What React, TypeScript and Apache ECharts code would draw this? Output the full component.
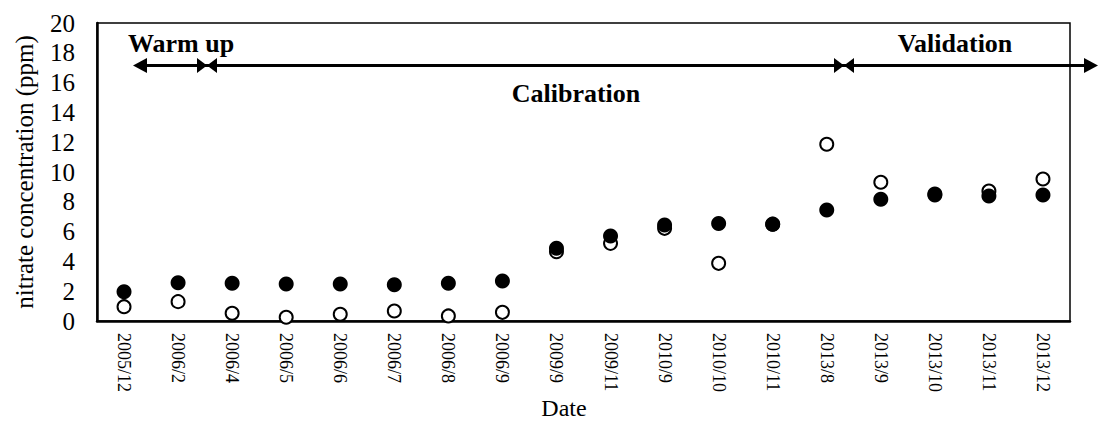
import React, { useEffect, useRef } from "react";
import * as echarts from "echarts";

const categories = [
  "2005/12", "2006/2", "2006/4", "2006/5", "2006/6", "2006/7", "2006/8", "2006/9",
  "2009/9", "2009/11", "2010/9", "2010/10", "2010/11", "2013/8", "2013/9", "2013/10",
  "2013/11", "2013/12",
];

// open circles
const openValues = [0.96, 1.3, 0.52, 0.25, 0.45, 0.67, 0.34, 0.58, 4.65, 5.21, 6.22, 3.87, 6.5, 11.86, 9.31, 8.52, 8.72, 9.53];
// filled circles
const filledValues = [1.97, 2.57, 2.53, 2.48, 2.48, 2.44, 2.53, 2.68, 4.88, 5.7, 6.44, 6.55, 6.5, 7.45, 8.17, 8.46, 8.39, 8.46];

const periodLabels = ["Warm up", "Calibration", "Validation"];
const xTitle = "Date";

const FONT = "Liberation Serif";

export default function App() {
  const ref = useRef<HTMLDivElement>(null);

  useEffect(() => {
    if (!ref.current) return;
    const chart = echarts.init(ref.current, null, { renderer: "svg" });
    const ay = 65.5;
    const h = 7.5;
    const head = (tip: number, base: number) => ({
      type: "polygon",
      shape: { points: [[tip, ay], [base, ay - h], [base, ay + h]] },
      style: { fill: "#000" },
      z: 100,
    });
    const label = (text: string, x: number, y: number, bold: boolean, size: number) => ({
      type: "text",
      x,
      y,
      style: {
        text,
        fontFamily: FONT,
        fontWeight: bold ? "bold" : "normal",
        fontSize: size,
        fill: "#000",
        align: "center",
        verticalAlign: "middle",
      },
      z: 100,
    });
    chart.setOption({
      animation: false,
      backgroundColor: "#fff",
      grid: {
        left: 97,
        right: 28,
        top: 23,
        bottom: 102,
        show: true,
        borderColor: "#000",
        borderWidth: 1.5,
        containLabel: false,
        outerBoundsMode: "none",
      },
      xAxis: {
        type: "category",
        data: categories,
        boundaryGap: true,
        axisLine: { show: true, lineStyle: { color: "#000", width: 2.5 } },
        axisTick: { show: false },
        axisLabel: {
          rotate: -90,
          margin: 12,
          fontFamily: FONT,
          fontSize: 18,
          color: "#000",
          interval: 0,
        },
        splitLine: { show: false },
      },
      yAxis: {
        type: "value",
        min: 0,
        max: 20,
        interval: 2,
        name: "nitrate concentration (ppm)",
        nameLocation: "middle",
        nameRotate: 90,
        nameGap: 60,
        nameTextStyle: { fontFamily: FONT, fontSize: 25, color: "#000" },
        axisLine: { show: true, lineStyle: { color: "#000", width: 2.5 } },
        axisTick: { show: false },
        axisLabel: { margin: 22, fontFamily: FONT, fontSize: 25, color: "#000" },
        splitLine: { show: false },
      },
      series: [
        {
          type: "scatter",
          name: "open",
          data: openValues,
          symbol: "circle",
          symbolSize: 13,
          itemStyle: { color: "#fff", borderColor: "#000", borderWidth: 2, opacity: 1 },
          z: 2,
        },
        {
          type: "scatter",
          name: "filled",
          data: filledValues,
          symbol: "circle",
          symbolSize: 15,
          itemStyle: { color: "#000", opacity: 1 },
          z: 3,
        },
      ],
      graphic: [
        {
          type: "line",
          shape: { x1: 140, y1: ay, x2: 1092, y2: ay },
          style: { stroke: "#000", lineWidth: 3 },
          z: 100,
        },
        head(133, 147),
        head(207, 197),
        head(207, 217),
        head(844, 834),
        head(844, 854),
        head(1098, 1084),
        label(periodLabels[0], 181, 43, true, 26),
        label(periodLabels[1], 576, 93, true, 26),
        label(periodLabels[2], 955, 43, true, 26),
        label(xTitle, 564, 408, false, 24),
      ],
    });
    return () => chart.dispose();
  }, []);

  return (
    <div
      ref={ref}
      style={{ position: "fixed", left: 0, top: 0, width: 1098, height: 423, background: "#fff" }}
    />
  );
}
